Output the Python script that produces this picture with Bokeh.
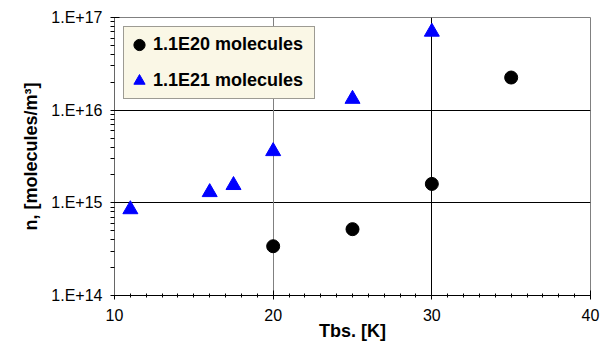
from bokeh.plotting import figure
from bokeh.models import (Range1d, FixedTicker, CustomJSTickFormatter, Legend, LegendItem,
                          Grid, ColumnDataSource)
from bokeh.embed import file_html
from bokeh.resources import INLINE

# ---- data ----
T_e20 = [20, 25, 30, 35]
n_e20 = [3.4e14, 5.2e14, 1.6e15, 2.25e16]
T_e21 = [11, 16, 17.5, 20, 25, 30]
n_e21 = [8.5e14, 1.3e15, 1.55e15, 3.6e15, 1.32e16, 7.0e16]
x_ticks = [10, 20, 30, 40]
y_ticks = [1e14, 1e15, 1e16, 1e17]
label_e20 = "1.1E20 molecules"
label_e21 = "1.1E21 molecules"
x_title = "Tbs. [K]"
y_title = "n, [molecules/m³]"

FONT = "Liberation Sans"

p = figure(width=600, height=345, x_range=Range1d(10, 40), y_range=Range1d(1e14, 1e17),
           y_axis_type="log", output_backend="svg", toolbar_location=None,
           min_border_left=114, min_border_top=17, min_border_right=10, min_border_bottom=50)
p.background_fill_color = "white"
p.border_fill_color = "white"
p.outline_line_color = "#808080"

# ticks
x_minor = list(range(10, 41))
y_minor = [m * 10.0 ** e for e in (14, 15, 16) for m in range(2, 10)]
p.xaxis.ticker = FixedTicker(ticks=x_ticks, minor_ticks=x_minor)
p.yaxis.ticker = FixedTicker(ticks=y_ticks, minor_ticks=y_minor)
p.yaxis.formatter = CustomJSTickFormatter(code="return '1.E+' + Math.round(Math.log10(tick));")

for ax in (p.xaxis, p.yaxis):
    ax.major_label_text_font = FONT
    ax.major_label_text_font_size = "16px"
    ax.major_label_text_color = "black"
    ax.axis_line_color = "black"
    ax.major_tick_line_color = "black"
    ax.minor_tick_line_color = "black"
    ax.axis_label_text_font = FONT
    ax.axis_label_text_font_style = "bold"
    ax.axis_label_text_font_size = "18px"
    ax.axis_label_text_color = "black"

p.xaxis.major_tick_in = 5
p.xaxis.major_tick_out = 4
p.xaxis.minor_tick_in = 2
p.xaxis.minor_tick_out = 2
p.xaxis.major_label_standoff = 9
p.xaxis.axis_label = x_title
p.xaxis.axis_label_standoff = -3

p.yaxis.major_tick_in = 5
p.yaxis.major_tick_out = 4
p.yaxis.minor_tick_in = 0
p.yaxis.minor_tick_out = 4
p.yaxis.axis_line_color = "#666666"
p.yaxis.major_label_standoff = 8
p.yaxis.axis_label = y_title
p.yaxis.axis_label_standoff = 7

# grids
p.xgrid.visible = False
p.ygrid.ticker = FixedTicker(ticks=[1e15, 1e16])
p.ygrid.grid_line_color = "black"
p.ygrid.grid_line_alpha = 1.0
p.add_layout(Grid(dimension=0, ticker=FixedTicker(ticks=[20]), grid_line_color="#808080"))
p.add_layout(Grid(dimension=0, ticker=FixedTicker(ticks=[30]), grid_line_color="black"))

# data
s20 = ColumnDataSource(dict(x=T_e20, y=n_e20))
s21 = ColumnDataSource(dict(x=T_e21, y=n_e21))
r20 = p.scatter("x", "y", source=s20, marker="circle", size=13,
                fill_color="black", line_color="black")
r21 = p.scatter("x", "y", source=s21, marker="triangle", size=15,
                fill_color="blue", line_color="blue")

legend = Legend(items=[LegendItem(label=label_e20, renderers=[r20]),
                       LegendItem(label=label_e21, renderers=[r21])],
                location="top_left", margin=9, padding=1, spacing=3,
                glyph_height=33, glyph_width=28, label_height=20, label_standoff=0,
                label_width=160,
                label_text_font=FONT, label_text_font_style="bold",
                label_text_font_size="18px", label_text_color="black",
                background_fill_color="#FAF7E6", background_fill_alpha=1.0,
                border_line_color="#404040", border_line_width=1)
p.add_layout(legend)

open("out.html", "w").write(file_html(p, INLINE))
